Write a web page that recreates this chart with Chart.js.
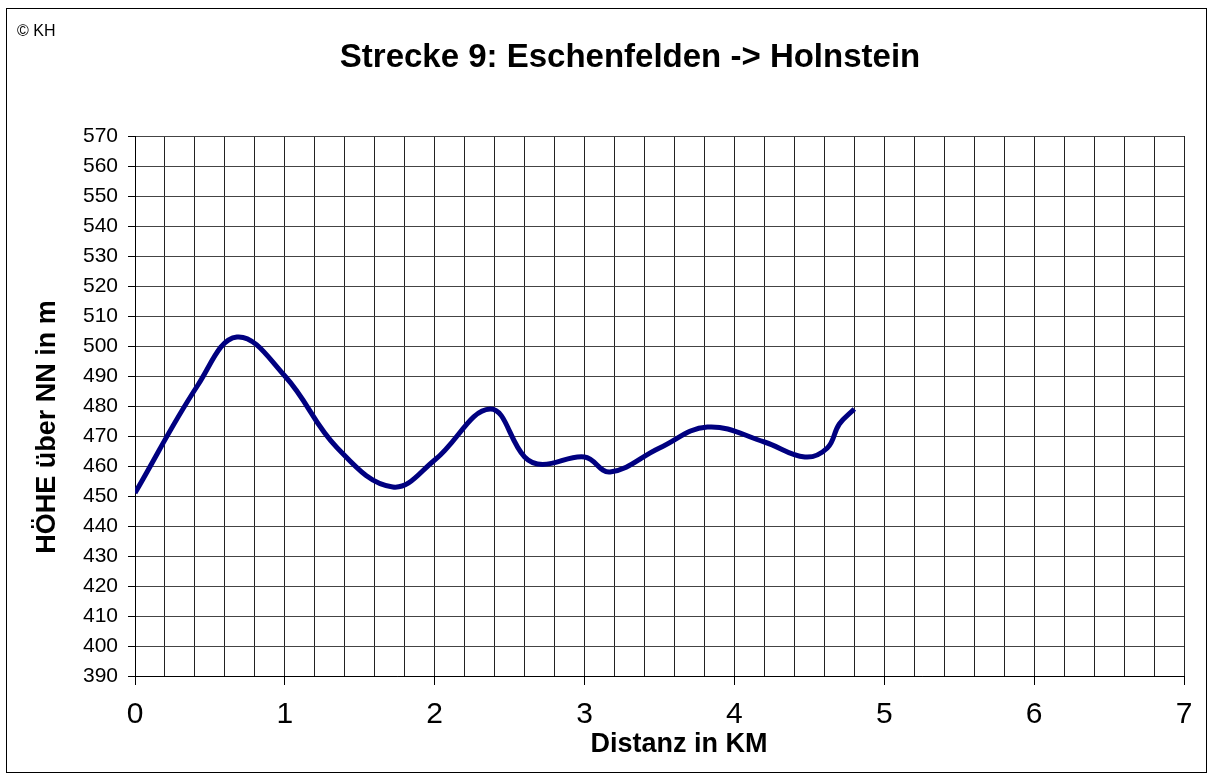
<!DOCTYPE html>
<html>
<head>
<meta charset="utf-8">
<script src="https://cdn.jsdelivr.net/npm/chart.js@4/dist/chart.umd.min.js"></script>
<style>
html,body{margin:0;padding:0;background:#fff;}
#wrap{width:1213px;height:781px;position:relative;}
</style>
</head>
<body>
<div id="wrap"><canvas id="c" width="1213" height="781"></canvas></div>
<script>
const distances = [0, 0.42, 0.68, 1.0, 1.35, 1.72, 2.0, 2.37, 2.6, 2.72, 3.0, 3.17, 3.5, 3.82, 4.2, 4.47, 4.62, 4.7, 4.8];
const heights   = [451, 487, 503, 490, 466, 453, 462, 479, 463, 460.5, 463, 458, 466, 473, 468, 463, 466, 474, 479];
const chartTitle = 'Strecke 9: Eschenfelden -> Holnstein';
const xTitle = 'Distanz in KM';
const yTitle = 'HÖHE über NN in m';
const copyright = '© KH';
const xMin = 0, xMax = 7, xGridStep = 0.2;
const yMin = 390, yMax = 570, yStep = 10;

const FONT = '"Liberation Sans", Arial, sans-serif';
const points = distances.map((d, i) => ({x: d, y: heights[i]}));
const isInt = v => Math.abs(v - Math.round(v)) < 1e-6;

const decor = {
  id: 'decor',
  beforeDraw(chart) {
    const ctx = chart.ctx;
    ctx.save();
    ctx.fillStyle = '#fff';
    ctx.fillRect(0, 0, chart.width, chart.height);
    ctx.strokeStyle = '#000';
    ctx.lineWidth = 1;
    ctx.strokeRect(6.5, 8.5, 1200, 764);
    ctx.restore();
  },
  afterDraw(chart) {
    const ctx = chart.ctx;
    ctx.save();
    ctx.fillStyle = '#000';
    ctx.textBaseline = 'middle';
    ctx.textAlign = 'left';
    ctx.font = '16px ' + FONT;
    ctx.fillText(copyright, 17, 32);
    ctx.textAlign = 'center';
    ctx.font = 'bold 33px ' + FONT;
    ctx.fillText(chartTitle, 630, 58);
    ctx.font = 'bold 27px ' + FONT;
    ctx.fillText(xTitle, 679, 745);
    ctx.translate(48, 427);
    ctx.rotate(-Math.PI / 2);
    ctx.font = 'bold 27px ' + FONT;
    ctx.fillText(yTitle, 0, 0);
    ctx.restore();
  }
};

new Chart(document.getElementById('c'), {
  type: 'line',
  data: {
    datasets: [{
      data: points,
      borderColor: '#000080',
      borderWidth: 5,
      pointRadius: 0,
      tension: 0.4,
      fill: false
    }]
  },
  options: {
    responsive: false,
    animation: false,
    layout: {padding: {top: 136, right: 29, bottom: 0, left: 0}},
    plugins: {legend: {display: false}, tooltip: {enabled: false}, title: {display: false}},
    scales: {
      x: {
        type: 'linear',
        min: xMin, max: xMax,
        afterFit(s) { s.height = 105; },
        border: {color: '#000', width: 1},
        grid: {
          color: '#222',
          lineWidth: 1,
          drawTicks: true,
          tickLength: 9,
          tickColor: c => (c.tick && isInt(c.tick.value)) ? '#000' : 'rgba(0,0,0,0)'
        },
        ticks: {
          stepSize: xGridStep,
          autoSkip: false,
          maxRotation: 0,
          padding: 12,
          color: '#000',
          font: {family: FONT, size: 30},
          callback: v => isInt(v) ? String(Math.round(v)) : ''
        },
        title: {display: false}
      },
      y: {
        min: yMin, max: yMax,
        afterFit(s) { s.width = 135; },
        border: {color: '#000', width: 1},
        grid: {color: '#444', lineWidth: 1, drawTicks: true, tickLength: 7, tickColor: '#000'},
        ticks: {
          stepSize: yStep,
          autoSkip: false,
          padding: 10,
          color: '#000',
          font: {family: FONT, size: 21}
        },
        title: {display: false}
      }
    }
  },
  plugins: [decor]
});
</script>
</body>
</html>
